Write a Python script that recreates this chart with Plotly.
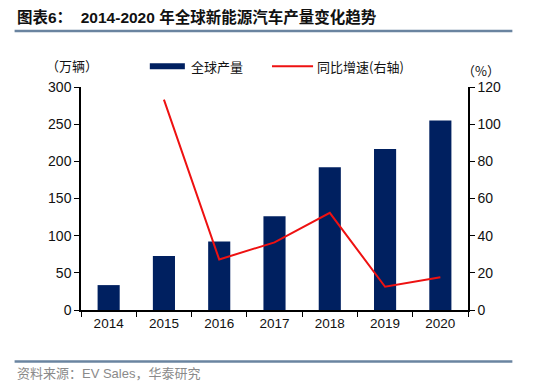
import plotly.graph_objects as go

years = ["2014", "2015", "2016", "2017", "2018", "2019", "2020"]
production = [33.5, 72.5, 92, 126, 192, 216.5, 255]
growth_years = ["2015", "2016", "2017", "2018", "2019", "2020"]
growth = [113.2, 27.2, 36.4, 52.3, 12.5, 17.6]
left_ticks = [0, 50, 100, 150, 200, 250, 300]
right_ticks = [0, 20, 40, 60, 80, 100, 120]

W, H = 552, 388
L, R, T, B = 81.3, 467.7, 86.7, 310.0

def px(x):
    return (x - L) / (R - L)

def py(y):
    return (B - y) / (B - T)

CJK = "Noto Sans CJK SC"
NUM = "Liberation Sans, Arial, sans-serif"
MIX = "Liberation Sans, Noto Sans CJK SC, sans-serif"
NAVY = "#002060"
RED = "#ee1111"
RULE = "#6a84a0"

fig = go.Figure()
fig.add_trace(go.Bar(x=years, y=production, marker=dict(color=NAVY, line=dict(width=0)),
                     name="全球产量", yaxis="y"))
fig.add_trace(go.Scatter(x=growth_years, y=growth, mode="lines", line=dict(color=RED, width=2),
                         name="同比增速(右轴)", yaxis="y2"))

fig.update_layout(
    width=W, height=H,
    margin=dict(l=L, r=W - R, t=T, b=H - B, pad=0),
    paper_bgcolor="white", plot_bgcolor="white",
    showlegend=False, bargap=0.6,
    font=dict(family=NUM, size=13, color="#111"),
    xaxis=dict(type="category", tickson="boundaries", ticks="outside", ticklen=5,
               tickcolor="black", showline=True, linecolor="black", linewidth=1.5,
               showgrid=False, tickfont=dict(family=NUM, size=13.5, color="#111"),
               range=[-0.5, 6.5]),
    yaxis=dict(range=[0, 300], tickvals=left_ticks, ticks="outside", ticklen=5,
               tickcolor="black", showline=True, linecolor="black", linewidth=1.5,
               showgrid=False, zeroline=False, tickfont=dict(family=NUM, size=14, color="#111")),
    yaxis2=dict(range=[0, 120], tickvals=right_ticks, overlaying="y", side="right",
                ticks="outside", ticklen=5, tickcolor="black", showline=True,
                linecolor="black", linewidth=1.5, showgrid=False, zeroline=False,
                tickfont=dict(family=NUM, size=14, color="#111")),
)

shapes = [
    dict(type="line", xref="paper", yref="paper", x0=px(15), x1=px(512), y0=py(30.5), y1=py(30.5),
         line=dict(color=RULE, width=2.5)),
    dict(type="line", xref="paper", yref="paper", x0=px(15), x1=px(512), y0=py(361.5), y1=py(361.5),
         line=dict(color=RULE, width=2.5)),
    dict(type="rect", xref="paper", yref="paper", x0=px(150), x1=px(185), y0=py(63), y1=py(69),
         fillcolor=NAVY, line=dict(width=0)),
    dict(type="line", xref="paper", yref="paper", x0=px(272), x1=px(313), y0=py(66), y1=py(66),
         line=dict(color=RED, width=2)),
]
fig.update_layout(shapes=shapes)

def ann(text, x, y, size, color="#111", family=CJK, anchor="left"):
    fig.add_annotation(text=text, xref="paper", yref="paper", x=px(x), y=py(y),
                       xanchor=anchor, yanchor="middle", showarrow=False,
                       font=dict(family=family, size=size, color=color))

ann("<b>图表6：  2014-2020 年全球新能源汽车产量变化趋势</b>", 15, 17, 15.5, family=MIX)
ann("全球产量", 189, 66, 13)
ann("同比增速(右轴)", 315, 66, 13)
ann("（万辆）", 44, 65, 13)
ann("（%）", 460, 70, 13)
ann("资料来源：EV Sales，华泰研究", 15, 374, 13, color="#8a8a8a", family=MIX)

fig.write_html("out.html", config={"displayModeBar": False},
               post_script="document.body.style.margin='0';document.body.style.overflow='hidden';")
